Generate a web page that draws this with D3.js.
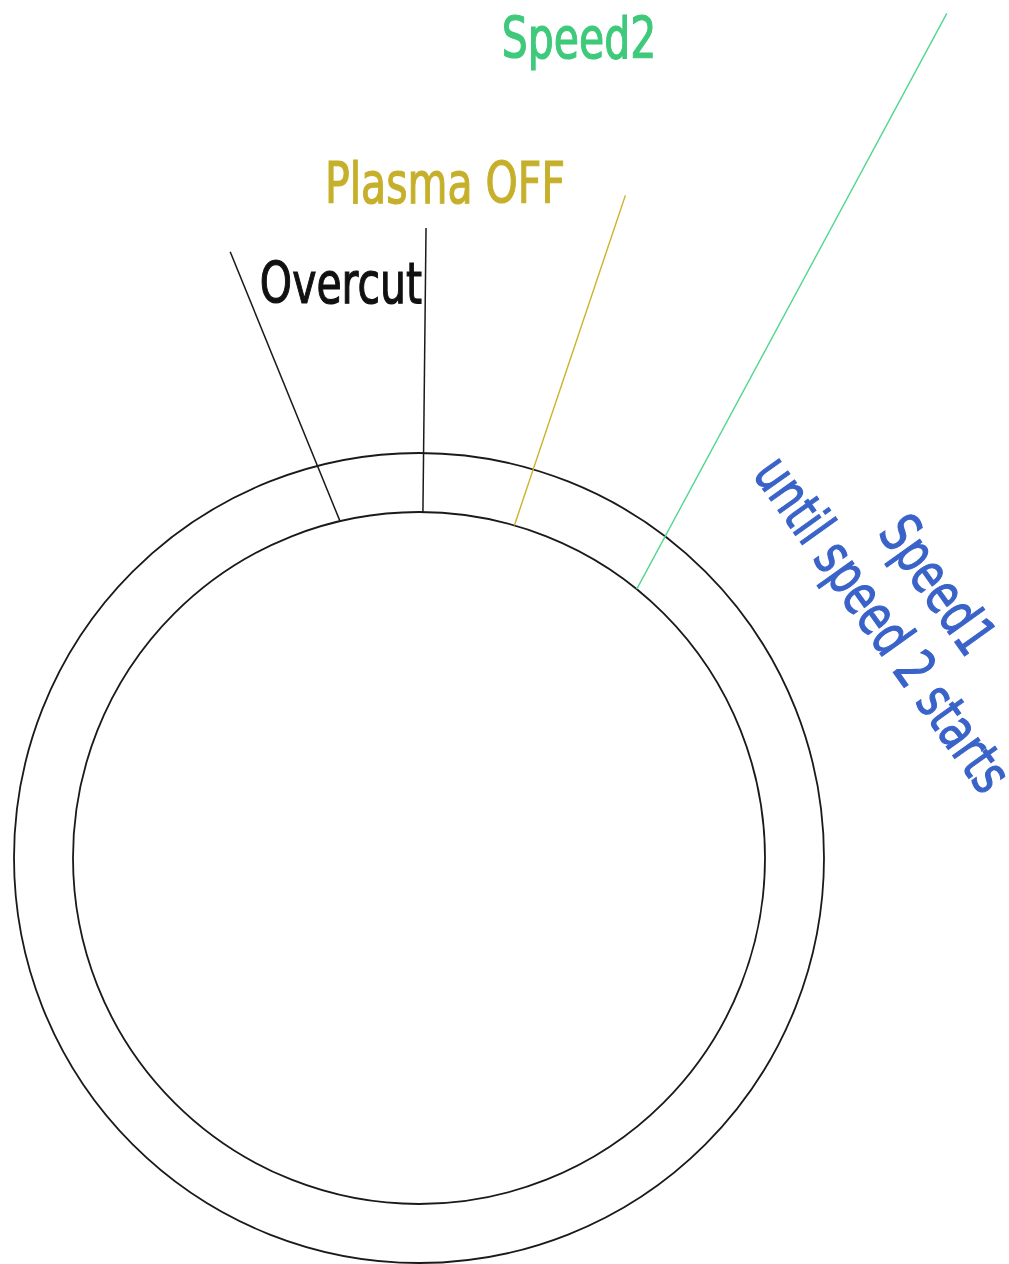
<!DOCTYPE html>
<html>
<head>
<meta charset="utf-8">
<script src="https://cdn.jsdelivr.net/npm/d3@7"></script>
<style>
  body { margin: 0; background: #fff; }
  svg { display: block; }
  text { font-family: "DejaVu Sans", Verdana, sans-serif; }
</style>
</head>
<body>
<svg id="diagram" width="1009" height="1264"></svg>
<script>
// ring radii (outer, inner)
const rings = [405, 346];

// marker lines: angle (deg, clockwise from top) where they leave the inner ring,
// and angle / radius of the far end
const markers = ["overcut-start", "overcut-end", "plasma-off", "speed2"];
const startAngles = [-13.2, 0.65, 16.0, 39.0];
const endAngles = [-17.3, 0.64, 17.3, 32.0];
const endRadii = [635, 630, 694, 996];
const markerColors = ["#1a1a1a", "#1a1a1a", "#cdb22a", "#52d68f"];

// labels
const labels = ["Speed2", "Plasma OFF", "Overcut"];
const labelColors = ["#3ec97b", "#c6b02b", "#111111"];
const speed1Lines = ["Speed1", "until speed 2 starts"];

const svg = d3.select("#diagram");
const cx = 419, cy = 858;

const r = d3.scaleLinear().domain([0, 1000]).range([0, 1000]);
const rad = d => d * Math.PI / 180;

const g = svg.append("g").attr("transform", `translate(${cx},${cy})`);

// rings
g.selectAll(".ring")
  .data(rings)
  .enter()
  .append("circle")
  .attr("class", "ring")
  .attr("r", d => r(d))
  .attr("fill", "none")
  .attr("stroke", "#1a1a1a")
  .attr("stroke-width", 1.8);

// marker lines
g.selectAll(".marker")
  .data(markers)
  .enter()
  .append("line")
  .attr("class", "marker")
  .each(function(d, i) {
    const p0 = d3.pointRadial(rad(startAngles[i]), r(rings[1]));
    const p1 = d3.pointRadial(rad(endAngles[i]), r(endRadii[i]));
    d3.select(this)
      .attr("x1", p0[0]).attr("y1", p0[1])
      .attr("x2", p1[0]).attr("y2", p1[1]);
  })
  .attr("stroke", (d, i) => markerColors[i])
  .attr("stroke-width", (d, i) => i < 2 ? 1.5 : 1.4);

// labels (text is drawn tall and narrow, like the source)
const labelPos = [[579, 58], [445, 203], [341, 303]];
svg.selectAll(".label")
  .data(labels)
  .enter()
  .append("text")
  .attr("class", "label")
  .attr("transform", (d, i) => `translate(${labelPos[i][0]},${labelPos[i][1]}) scale(1,1.38)`)
  .attr("text-anchor", "middle")
  .attr("font-size", 41)
  .attr("fill", (d, i) => labelColors[i])
  .attr("stroke", (d, i) => labelColors[i])
  .attr("stroke-width", 0.9)
  .text(d => d);

// rotated Speed1 note
const note = svg.append("text")
  .attr("transform", "translate(922,596) rotate(54.5) scale(1,1.38)")
  .attr("text-anchor", "middle")
  .attr("font-size", 41)
  .attr("fill", "#3a63c9")
  .attr("stroke", "#3a63c9")
  .attr("stroke-width", 0.9);

note.selectAll("tspan")
  .data(speed1Lines)
  .enter()
  .append("tspan")
  .attr("x", 0)
  .attr("y", (d, i) => i * 49)
  .text(d => d);
</script>
</body>
</html>
